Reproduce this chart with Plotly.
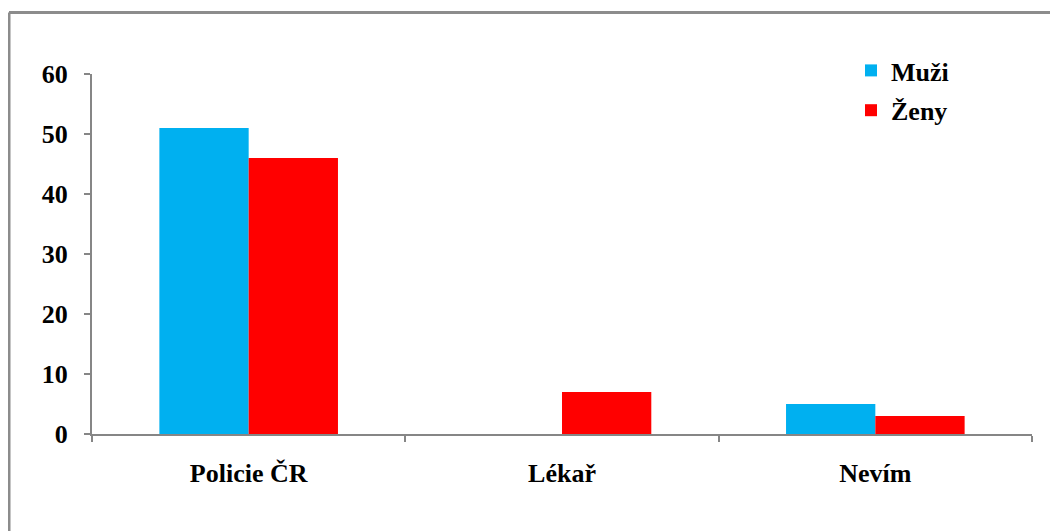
import plotly.graph_objects as go

categories = ["Policie ČR", "Lékař", "Nevím"]
muzi = [51, 0, 5]
zeny = [46, 7, 3]
y_ticks = [0, 10, 20, 30, 40, 50, 60]

OFF = 8  # page body margin
W, H = 1058 - OFF, 531 - OFF
L, R, T, B = 92 - OFF, 1032 - OFF, 74 - OFF, 434 - OFF
pw, ph = R - L, B - T

FAM = "Liberation Serif"
tfont = dict(family=FAM, size=26, color="black", weight="bold")

fig = go.Figure()
fig.add_trace(go.Bar(x=categories, y=muzi, name="Muži", marker_color="#00B0F0",
                     marker_line_width=0, legendgroup="m"))
fig.add_trace(go.Bar(x=categories, y=zeny, name="Ženy", marker_color="#FF0000",
                     marker_line_width=0, legendgroup="z"))

axis_col = "#868686"

fig.update_layout(
    width=W, height=H,
    margin=dict(l=L, r=W - R, t=T, b=H - B, pad=0, autoexpand=False),
    paper_bgcolor="white", plot_bgcolor="white",
    barmode="group", bargap=0.43, bargroupgap=0,
    font=dict(family=FAM, size=26, color="black"),
    showlegend=True,
    legend=dict(x=(851 - 92) / pw, y=1 + 27 / ph, xanchor="left", yanchor="top",
                bgcolor="rgba(0,0,0,0)", font=tfont,
                traceorder="grouped", tracegroupgap=3, itemwidth=30),
    xaxis=dict(showline=True, linecolor=axis_col, linewidth=2, ticks="outside",
               tickson="boundaries", ticklen=6, tickcolor=axis_col, tickwidth=2,
               tickfont=tfont, showgrid=False, zeroline=False, range=[-0.5, 2.5],
               ticklabelstandoff=15),
    yaxis=dict(showline=True, linecolor=axis_col, linewidth=2, ticks="outside",
               ticklen=6, tickcolor=axis_col, tickwidth=2, range=[0, 60],
               tickvals=y_ticks, ticktext=[str(v) for v in y_ticks],
               tickfont=tfont, showgrid=False, zeroline=False, ticklabelstandoff=11),
    shapes=[
        dict(type="line", xref="paper", yref="paper",
             x0=(9 - 92) / pw, x1=(W + 20 - L) / pw, y0=(434 - 12.5) / ph, y1=(434 - 12.5) / ph,
             line=dict(color="#8C8C8C", width=3)),
        dict(type="line", xref="paper", yref="paper",
             x0=(9 - 92) / pw, x1=(9 - 92) / pw, y0=(434 - 12.5) / ph, y1=-(H) / ph,
             line=dict(color="#8C8C8C", width=3)),
    ],
)

fig.write_html("out.html")
